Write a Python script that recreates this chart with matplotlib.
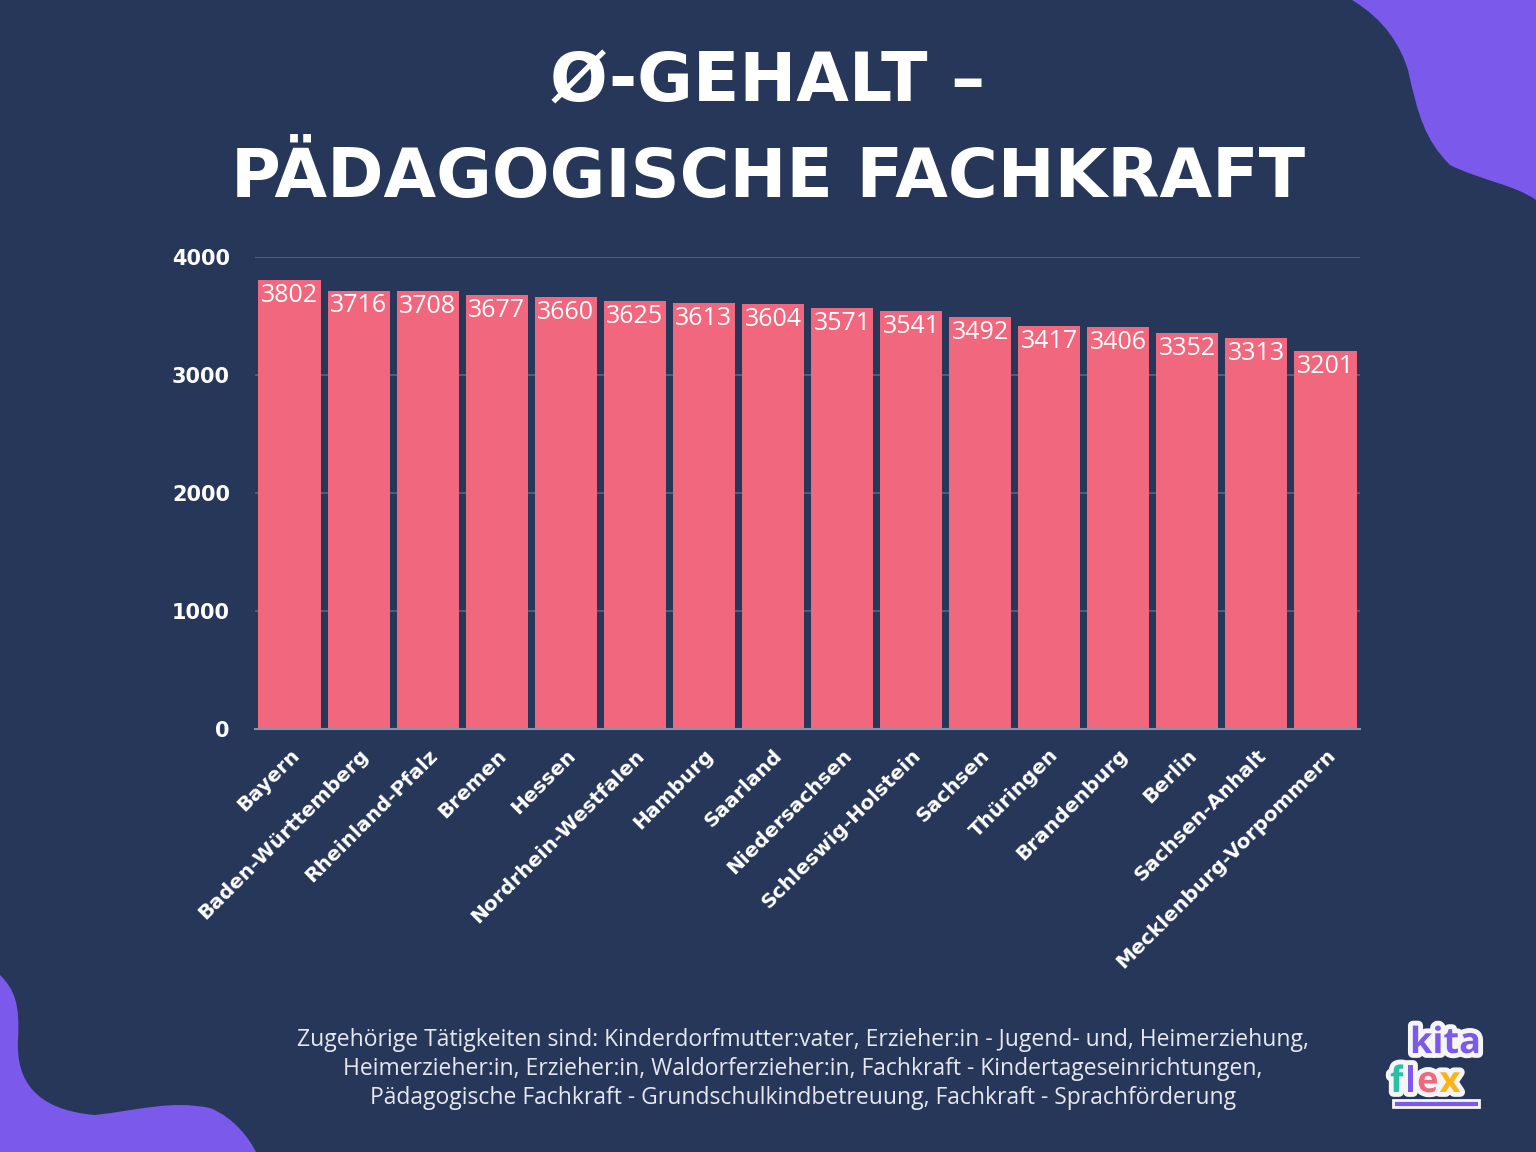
import numpy as np
import matplotlib.pyplot as plt
from matplotlib.patches import PathPatch, Rectangle
from matplotlib.path import Path
import matplotlib.patheffects as pe

laender = ['Bayern', 'Baden-Württemberg', 'Rheinland-Pfalz', 'Bremen', 'Hessen',
           'Nordrhein-Westfalen', 'Hamburg', 'Saarland', 'Niedersachsen',
           'Schleswig-Holstein', 'Sachsen', 'Thüringen', 'Brandenburg', 'Berlin',
           'Sachsen-Anhalt', 'Mecklenburg-Vorpommern']
gehalt = [3802, 3716, 3708, 3677, 3660, 3625, 3613, 3604, 3571, 3541, 3492,
          3417, 3406, 3352, 3313, 3201]
yticks = [0, 1000, 2000, 3000, 4000]

bg = '#27375a'
pink = '#f0677e'
purple = '#7b5aeb'

W, H = 1536, 1152
fig = plt.figure(figsize=(W / 100, H / 100), dpi=100, facecolor=bg)

# blobs in the corners (pixel coords -> figure fraction)
def blob(pts, codes):
    v = [(x / W, 1 - y / H) for x, y in pts]
    p = PathPatch(Path(v, codes), transform=fig.transFigure, facecolor=purple,
                  edgecolor='none', zorder=0)
    fig.patches.append(p)

C = Path.CURVE4
blob([(1352, 0), (1385, 20), (1400, 45), (1408, 70),
      (1418, 115), (1425, 140), (1450, 165),
      (1480, 180), (1515, 185), (1536, 200),
      (1536, 0), (1352, 0)],
     [Path.MOVETO, C, C, C, C, C, C, C, C, C, Path.LINETO, Path.CLOSEPOLY])
blob([(0, 975), (15, 990), (20, 1005), (18, 1040),
      (16, 1080), (35, 1110), (95, 1115),
      (140, 1110), (170, 1100), (210, 1108),
      (235, 1118), (250, 1140), (256, 1152),
      (0, 1152), (0, 975)],
     [Path.MOVETO, C, C, C, C, C, C, C, C, C, C, C, C, Path.LINETO, Path.CLOSEPOLY])

ax = fig.add_axes([255 / W, 1 - 729 / H, (1360 - 255) / W, (729 - 257) / H])
ax.set_facecolor('none')
x = np.arange(len(laender))
ax.bar(x, gehalt, width=0.9, color=pink, zorder=3)
for xi, v in zip(x, gehalt):
    ax.text(xi, v - 25, str(v), ha='center', va='top', color='white',
            fontsize=18, family='Open Sans', zorder=4)

ax.set_xlim(-0.5, len(laender) - 0.5)
ax.set_ylim(0, 4000)
ax.set_yticks(yticks)
ax.set_yticklabels([str(t) for t in yticks], fontsize=15, fontweight='bold',
                   color='white', family='DejaVu Sans')
ax.yaxis.grid(True, color='#56657f', linewidth=1.2, zorder=0)
ax.set_xticks(x)
ax.set_xticklabels(laender, rotation=45, ha='right', rotation_mode='anchor',
                   fontsize=14.5, fontweight='bold', color='white', family='DejaVu Sans')
ax.tick_params(axis='y', length=0, pad=18)
ax.tick_params(axis='x', length=0, pad=12)
for s in ['top', 'right', 'left']:
    ax.spines[s].set_visible(False)
ax.spines['bottom'].set_color('#8a93a6')
ax.spines['bottom'].set_linewidth(1.5)
ax.spines['bottom'].set_zorder(5)

fig.text(768 / W, 1 - 82 / H, 'Ø-GEHALT –', ha='center', va='center',
         color='white', fontsize=49, fontweight='bold', family='DejaVu Sans')
fig.text(768 / W, 1 - 178 / H, 'PÄDAGOGISCHE FACHKRAFT', ha='center', va='center',
         color='white', fontsize=49, fontweight='bold', family='DejaVu Sans')

fig.text(803 / W, 1 - 1069 / H,
         'Zugehörige Tätigkeiten sind: Kinderdorfmutter:vater, Erzieher:in - Jugend- und, Heimerziehung,\n'
         'Heimerzieher:in, Erzieher:in, Waldorferzieher:in, Fachkraft - Kindertageseinrichtungen,\n'
         'Pädagogische Fachkraft - Grundschulkindbetreuung, Fachkraft - Sprachförderung',
         ha='center', va='center', color='#e6e8ee', fontsize=16.5, family='Open Sans',
         linespacing=1.3)

# logo
st = [pe.withStroke(linewidth=7, foreground='#f5f5f5')]
fig.patches.append(Rectangle((1393 / W, 1 - 1107 / H), 86 / W, 7 / H,
                             transform=fig.transFigure, facecolor=purple,
                             edgecolor='#f5f5f5', linewidth=2, zorder=5))
fig.text(1410 / W, 1 - 1044 / H, 'kita', color=purple, fontsize=26, fontweight='bold',
         family='Open Sans', ha='left', va='center', path_effects=st, zorder=6)
renderer = fig.canvas.get_renderer()
xp = 1390
for ch, col in [('f', '#2bbfa5'), ('l', purple), ('e', pink), ('x', '#fbb316')]:
    t = fig.text(xp / W, 1 - 1083 / H, ch, color=col, fontsize=26, fontweight='bold',
                 family='Open Sans', ha='left', va='center', path_effects=st, zorder=6)
    bb = t.get_window_extent(renderer)
    xp = bb.x1 + 1

fig.savefig('out.png', dpi=100, facecolor=bg)
